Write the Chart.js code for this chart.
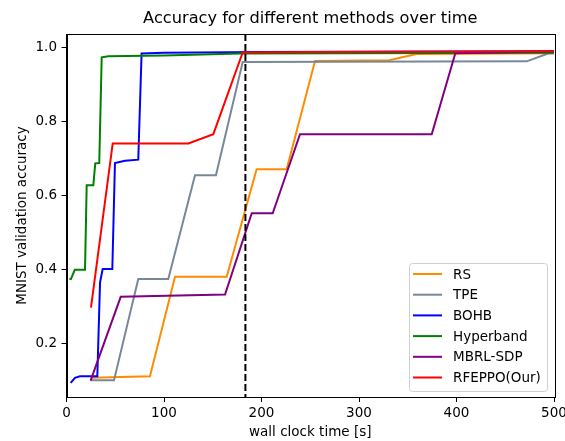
<!DOCTYPE html>
<html>
<head>
<meta charset="utf-8">
<script src="https://cdn.jsdelivr.net/npm/chart.js@4.4.1/dist/chart.umd.min.js"></script>
<style>
  html, body { margin: 0; padding: 0; background: #fff; }
  #wrap { width: 565px; height: 441px; }
</style>
</head>
<body>
<div id="wrap"><canvas id="myChart" width="565" height="441"></canvas></div>
<script>
'use strict';

// series labels and colours, in legend order
const methodNames = ['RS', 'TPE', 'BOHB', 'Hyperband', 'MBRL-SDP', 'RFEPPO(Our)'];
const methodColors = ['#ff8c00', '#778899', '#0000ff', '#008000', '#800080', '#ff0000'];

// wall clock time [s] and accuracy
const rsTime = [25.8, 85.6, 111.3, 164.3, 195, 225.8, 254.9, 331, 359, 500];
const rsAcc = [0.107, 0.111, 0.38, 0.38, 0.671, 0.671, 0.964, 0.966, 0.983, 0.985];

const tpeTime = [24.1, 48.7, 73.6, 104.4, 131.8, 153.3, 180.7, 472, 494, 500];
const tpeAcc = [0.1, 0.1, 0.374, 0.374, 0.655, 0.655, 0.961, 0.963, 0.984, 0.985];

const bohbTime = [4.3, 8.7, 13.8, 31.6, 34.4, 37.1, 47, 49.7, 60, 73.6, 77, 100, 200, 300, 500];
const bohbAcc = [0.093, 0.107, 0.111, 0.111, 0.365, 0.401, 0.401, 0.688, 0.694, 0.697, 0.984, 0.986, 0.988, 0.989, 0.99];

const hyperbandTime = [3, 4.5, 8.5, 19, 20.7, 27.5, 29.5, 33.6, 36.1, 42.9, 100, 178, 500];
const hyperbandAcc = [0.374, 0.374, 0.399, 0.399, 0.628, 0.628, 0.687, 0.688, 0.974, 0.977, 0.979, 0.984, 0.986];

const mbrlTime = [24.8, 55.6, 162.6, 190, 211.5, 239.5, 374.6, 398.8, 500];
const mbrlAcc = [0.1, 0.326, 0.332, 0.552, 0.552, 0.766, 0.766, 0.985, 0.99];

const rfeppoTime = [25.1, 47.4, 125, 150.6, 180.7, 250, 500];
const rfeppoAcc = [0.297, 0.741, 0.741, 0.766, 0.987, 0.988, 0.99];

const xTicks = [0, 100, 200, 300, 400, 500];
const yTicks = [0.2, 0.4, 0.6, 0.8, 1.0];
const markerTime = 183.5; // dashed vertical line

const seriesTime = [rsTime, tpeTime, bohbTime, hyperbandTime, mbrlTime, rfeppoTime];
const seriesAcc = [rsAcc, tpeAcc, bohbAcc, hyperbandAcc, mbrlAcc, rfeppoAcc];

const chartTitle = 'Accuracy for different methods over time';
const FONT = 'DejaVu Sans';

// title over the axes, dashed line, axes box and the legend, matplotlib style
const extrasPlugin = {
	id: 'extras',
	afterDatasetsDraw(chart) {
		const { ctx, chartArea: a, scales } = chart;
		const px = scales.x.getPixelForValue(markerTime);
		ctx.save();
		ctx.strokeStyle = '#000';
		ctx.lineWidth = 2;
		ctx.setLineDash([7, 3]);
		ctx.beginPath();
		ctx.moveTo(px, a.top);
		ctx.lineTo(px, a.bottom);
		ctx.stroke();
		ctx.setLineDash([]);

		ctx.lineWidth = 1;
		ctx.strokeRect(Math.round(a.left) + 0.5, Math.round(a.top) + 0.5,
			Math.round(a.right - a.left), Math.round(a.bottom - a.top));

		ctx.fillStyle = '#000';
		ctx.font = '16.2px "' + FONT + '"';
		ctx.textAlign = 'center';
		ctx.textBaseline = 'middle';
		ctx.fillText(chartTitle, (a.left + a.right) / 2, 19);

		// legend box, lower right
		const w = 138, h = 128;
		const bx = a.right - 7 - w;
		const by = a.bottom - 6 - h;
		ctx.fillStyle = 'rgba(255,255,255,0.8)';
		ctx.strokeStyle = '#d0d0d0';
		ctx.beginPath();
		ctx.roundRect(bx + 0.5, by + 0.5, w, h, 3);
		ctx.fill();
		ctx.stroke();
		ctx.font = '13.5px "' + FONT + '"';
		ctx.textAlign = 'left';
		methodNames.forEach((name, i) => {
			const y = by + 11 + i * 20.7;
			ctx.strokeStyle = methodColors[i];
			ctx.lineWidth = 2;
			ctx.beginPath();
			ctx.moveTo(bx + 4, y);
			ctx.lineTo(bx + 33, y);
			ctx.stroke();
			ctx.fillStyle = '#000';
			ctx.fillText(name, bx + 44, y + 1);
		});
		ctx.restore();
	}
};

const ctx = document.getElementById('myChart');

new Chart(ctx, {
	type: 'line',
	data: {
		datasets: methodNames.map((name, i) => ({
			label: name,
			data: seriesTime[i].map((t, j) => ({ x: t, y: seriesAcc[i][j] })),
			borderColor: methodColors[i],
			borderWidth: 2,
			pointRadius: 0,
			tension: 0,
			fill: false,
			order: methodNames.length - i,
		})),
	},
	options: {
		responsive: false,
		animation: false,
		layout: { padding: { left: 0, right: 0, top: 34, bottom: 0 } },
		plugins: {
			legend: { display: false },
			tooltip: { enabled: false },
			title: { display: false },
		},
		scales: {
			x: {
				type: 'linear',
				min: 0,
				max: 500,
				afterBuildTicks: (s) => { s.ticks = xTicks.map((v) => ({ value: v })); },
				afterFit: (s) => {
					s.height = 44;
					s.paddingRight = 11;
					s.paddingLeft = 0;
				},
				ticks: {
					color: '#000',
					padding: 3,
					maxRotation: 0,
					font: { family: FONT, size: 13.5 },
				},
				grid: { drawOnChartArea: false, drawTicks: true, tickLength: 5, color: '#000' },
				border: { display: true, color: '#000' },
				title: {
					display: true,
					text: 'wall clock time [s]',
					color: '#000',
					font: { family: FONT, size: 13.5 },
					padding: { top: 0, bottom: 0 },
				},
			},
			y: {
				min: 0.055,
				max: 1.037,
				afterBuildTicks: (s) => { s.ticks = yTicks.map((v) => ({ value: v })); },
				afterFit: (s) => {
					s.width = 66.5;
					s.paddingTop = 0;
				},
				ticks: {
					color: '#000',
					padding: 4.5,
					font: { family: FONT, size: 13.5 },
					callback: (v) => v.toFixed(1),
				},
				grid: { drawOnChartArea: false, drawTicks: true, tickLength: 5, color: '#000' },
				border: { display: true, color: '#000' },
				title: {
					display: true,
					text: 'MNIST validation accuracy',
					color: '#000',
					font: { family: FONT, size: 13.5 },
					padding: { top: 14, bottom: 0 },
				},
			},
		},
	},
	plugins: [extrasPlugin],
});
</script>
</body>
</html>
